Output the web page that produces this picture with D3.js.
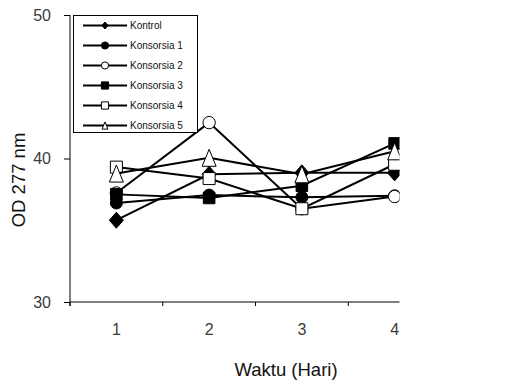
<!DOCTYPE html>
<html>
<head>
<meta charset="utf-8">
<script src="https://cdn.jsdelivr.net/npm/d3@7"></script>
<style>
  body { margin: 0; background: #fff; }
  svg { display: block; font-family: "Liberation Sans", Arial, sans-serif; }
</style>
</head>
<body>
<svg id="chart" width="517" height="380"></svg>
<script>
// data
var categories = ['1', '2', '3', '4'];
var seriesNames = ['Kontrol', 'Konsorsia 1', 'Konsorsia 2', 'Konsorsia 3', 'Konsorsia 4', 'Konsorsia 5'];
var kontrol    = [35.7, 38.9, 39.0, 39.0];
var konsorsia1 = [36.9, 37.45, 37.3, 37.4];
var konsorsia2 = [37.6, 42.5, 36.5, 37.35];
var konsorsia3 = [37.5, 37.25, 38.1, 41.05];
var konsorsia4 = [39.4, 38.6, 36.5, 39.6];
var konsorsia5 = [38.95, 40.05, 38.9, 40.5];
var yTicks = [30, 40, 50];
var xTitle = 'Waktu (Hari)';
var yTitle = 'OD 277 nm';

window.onload = function() {
	var svg = d3.select('#chart');

	var x = d3.scaleBand().domain(categories).range([70, 441]);
	var y = d3.scaleLinear().domain([30, 50]).range([302, 15]);

	// the original picture is cut at the right
	svg.append('clipPath').attr('id', 'cut')
		.append('rect').attr('x', 0).attr('y', 0).attr('width', 399.5).attr('height', 380);
	var g = svg.append('g').attr('clip-path', 'url(#cut)');

	// marker shapes, s = half height
	function shape(kind) {
		return { draw: function(ctx, s) {
			if (kind == 'diamond') {
				ctx.moveTo(0, -s); ctx.lineTo(s * 0.88, 0); ctx.lineTo(0, s); ctx.lineTo(-s * 0.88, 0); ctx.closePath();
			} else if (kind == 'circle') {
				ctx.moveTo(s, 0); ctx.arc(0, 0, s, 0, 2 * Math.PI);
			} else if (kind == 'square') {
				ctx.rect(-s, -s, 2 * s, 2 * s);
			} else {
				ctx.moveTo(0, -s); ctx.lineTo(s * 0.82, s); ctx.lineTo(-s * 0.82, s); ctx.closePath();
			}
		}};
	}

	var series = [
		{ name: seriesNames[0], values: kontrol,    kind: 'diamond',  fill: '#000', size: 8,   small: 3.5 },
		{ name: seriesNames[1], values: konsorsia1, kind: 'circle',   fill: '#000', size: 6,   small: 3.6 },
		{ name: seriesNames[2], values: konsorsia2, kind: 'circle',   fill: '#fff', size: 6.2, small: 3.6 },
		{ name: seriesNames[3], values: konsorsia3, kind: 'square',   fill: '#000', size: 5.8, small: 3.6 },
		{ name: seriesNames[4], values: konsorsia4, kind: 'square',   fill: '#fff', size: 6,   small: 3.6 },
		{ name: seriesNames[5], values: konsorsia5, kind: 'triangle', fill: '#fff', size: 8.5, small: 3.6 }
	];

	var cx = function(i) { return x(categories[i]) + x.bandwidth() / 2; };

	// y axis
	var yAxis = d3.axisLeft(y).tickValues(yTicks).tickSize(6).tickSizeOuter(0).tickPadding(13).tickFormat(d3.format('d'));
	var ya = g.append('g').attr('transform', 'translate(70,0)').call(yAxis);
	ya.select('.domain').attr('stroke', '#000').attr('d', 'M0,' + y(50) + 'V' + (y(30) + 4));
	ya.selectAll('.tick line').attr('stroke', '#000');
	ya.selectAll('.tick text').attr('font-size', 16).attr('fill', '#3a3a3a').attr('font-family', 'Liberation Sans, Arial');

	// x axis
	var xAxis = d3.axisBottom(x).tickSize(0).tickPadding(22);
	var xa = g.append('g').attr('transform', 'translate(0,' + y(30) + ')').call(xAxis);
	xa.select('.domain').attr('stroke', '#000').attr('d', 'M' + x.range()[0] + ',0H' + x.range()[1]);
	xa.selectAll('.tick text').attr('font-size', 16).attr('fill', '#3a3a3a').attr('font-family', 'Liberation Sans, Arial');
	xa.selectAll('.bound').data(categories).enter().append('line')
		.attr('class', 'bound')
		.attr('x1', function(d) { return x(d); }).attr('x2', function(d) { return x(d); })
		.attr('y1', 0).attr('y2', 4).attr('stroke', '#000');

	// titles
	svg.append('text').attr('x', 286).attr('y', 376).attr('text-anchor', 'middle')
		.attr('font-size', 18.5).attr('fill', '#111').text(xTitle);
	svg.append('text').attr('transform', 'translate(25,180) rotate(-90)').attr('text-anchor', 'middle')
		.attr('font-size', 18.5).attr('fill', '#111').text(yTitle);

	// lines and markers
	var line = d3.line().x(function(d, i) { return cx(i); }).y(function(d) { return y(d); });
	series.forEach(function(s) {
		g.append('path').datum(s.values).attr('d', line)
			.attr('fill', 'none').attr('stroke', '#000').attr('stroke-width', 2);
		g.selectAll(null).data(s.values).enter().append('path')
			.attr('transform', function(d, i) { return 'translate(' + cx(i) + ',' + y(d) + ')'; })
			.attr('d', d3.symbol().type(shape(s.kind)).size(s.size))
			.attr('fill', s.fill).attr('stroke', '#000').attr('stroke-width', 1);
	});

	// legend
	var lg = svg.append('g');
	lg.append('rect').attr('x', 73.5).attr('y', 15.5).attr('width', 124).attr('height', 117)
		.attr('fill', '#fff').attr('stroke', '#000').attr('stroke-width', 1);
	var rows = lg.selectAll('.row').data(series).enter().append('g')
		.attr('transform', function(d, i) { return 'translate(0,' + (25.5 + i * 20) + ')'; });
	rows.append('line').attr('x1', 83).attr('x2', 127).attr('y1', 0).attr('y2', 0)
		.attr('stroke', '#000').attr('stroke-width', 2);
	rows.append('path').attr('transform', 'translate(105,0)')
		.attr('d', function(d) { return d3.symbol().type(shape(d.kind)).size(d.small)(); })
		.attr('fill', function(d) { return d.fill; }).attr('stroke', '#000').attr('stroke-width', 1);
	rows.append('text').attr('x', 130).attr('y', 3.5).attr('font-size', 10).attr('fill', '#111')
		.text(function(d) { return d.name; });
};
</script>
</body>
</html>
